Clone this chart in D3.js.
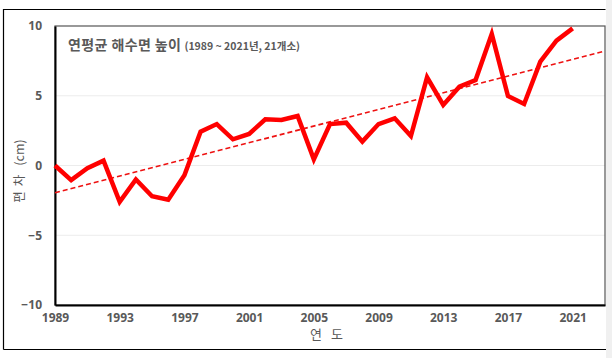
<!DOCTYPE html>
<html><head><meta charset="utf-8">
<script src="https://cdn.jsdelivr.net/npm/d3@7"></script>
<style>
html,body{margin:0;padding:0;background:#fff;}
svg{display:block;}
</style></head>
<body>
<svg id="c" width="612" height="358"></svg>
<script>
const years = [1989,1990,1991,1992,1993,1994,1995,1996,1997,1998,1999,2000,2001,2002,2003,2004,2005,2006,2007,2008,2009,2010,2011,2012,2013,2014,2015,2016,2017,2018,2019,2020,2021];
const anomaly = [0.0,-1.05,-0.2,0.35,-2.6,-1.0,-2.2,-2.45,-0.7,2.42,2.97,1.88,2.26,3.31,3.26,3.55,0.44,2.97,3.07,1.71,2.97,3.38,2.11,6.32,4.34,5.65,6.13,9.43,4.98,4.41,7.44,8.95,9.83];
const trendYears = [1989, 2023];
const trendValues = [-1.95, 8.2];
const yTicks = [-10,-5,0,5,10];
const xTicks = [1989,1993,1997,2001,2005,2009,2013,2017,2021];
const titleMain = "연평균 해수면 높이";
const titleSub = "(1989 ~ 2021년, 21개소)";
const yTitleParts = ["편", "차", "(cm)"];
const xTitle = "연 도";

const svg = d3.select("#c");
const L = 55, R = 605, T = 26, B = 305;
const x = d3.scaleLinear().domain([1989, 2023]).range([L, R]);
const y = d3.scaleLinear().domain([-10, 10]).range([B, T]);
const font = "'Noto Sans','Noto Sans CJK KR',sans-serif";
const grey = "#595959";

svg.append("rect").attr("x",606).attr("y",0).attr("width",6).attr("height",358).attr("fill","#f0f0f0");
svg.append("path").attr("d","M3.5,349.5V9.5H605.5M3.5,349.5H606").attr("fill","none").attr("stroke","#000").attr("stroke-width",1.2);

svg.append("g").selectAll("line").data(yTicks.filter(d=>d>-10 && d<10)).join("line")
  .attr("x1",L).attr("x2",R).attr("y1",d=>y(d)).attr("y2",d=>y(d))
  .attr("stroke","#ececec").attr("stroke-width",1);

svg.append("rect").attr("x",L).attr("y",T).attr("width",R-L).attr("height",B-T)
  .attr("fill","none").attr("stroke","#555").attr("stroke-width",1.2);

const yAxis = svg.append("g").attr("transform",`translate(${L},0)`)
  .call(d3.axisLeft(y).tickValues(yTicks).tickSize(0).tickPadding(13).tickFormat(d3.format("d")));
const xAxis = svg.append("g").attr("transform",`translate(0,${B})`)
  .call(d3.axisBottom(x).tickValues(xTicks).tickSize(0).tickPadding(8).tickFormat(d3.format("d")));
[yAxis,xAxis].forEach(a=>{
  a.select(".domain").attr("stroke","#000").attr("stroke-width",2);
  a.selectAll("text").attr("font-family",font).attr("font-size",12).attr("font-weight","bold").attr("fill",grey);
});

const lineGen = d3.line().x(d=>x(d[0])).y(d=>y(d[1]));
svg.append("path").datum(d3.zip(trendYears, trendValues)).attr("d",lineGen)
  .attr("fill","none").attr("stroke","#ee1111").attr("stroke-width",1.6).attr("stroke-dasharray","5,3");

svg.append("path").datum(d3.zip(years, anomaly)).attr("d",lineGen)
  .attr("fill","none").attr("stroke","#ff0000").attr("stroke-width",4.5).attr("stroke-linejoin","miter");

const t = svg.append("text").attr("x",68).attr("y",50).attr("font-family","'Noto Sans CJK KR',sans-serif").attr("fill",grey).attr("font-weight","bold");
t.append("tspan").attr("font-size",14).attr("letter-spacing",0.4).text(titleMain);
t.append("tspan").attr("font-size",10.5).attr("dx",3).text(titleSub);

const yt = svg.append("text").attr("transform","translate(24,171) rotate(-90)").attr("text-anchor","middle")
  .attr("font-family","'Noto Sans CJK KR',sans-serif").attr("font-size",12.5).attr("fill",grey);
yt.selectAll("tspan").data(yTitleParts).join("tspan").attr("dx",(d,i)=>i===0?0:(i===1?5:9)).text(d=>d);
svg.append("text").attr("x",328).attr("y",339).attr("text-anchor","middle")
  .attr("font-family","'Noto Sans CJK KR',sans-serif").attr("font-size",13).attr("letter-spacing",3).attr("fill",grey).text(xTitle);
</script>
</body></html>
